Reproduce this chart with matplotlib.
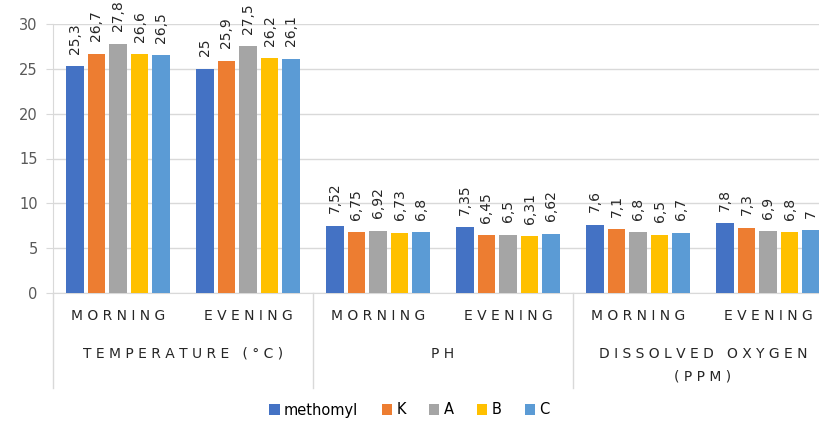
"""Bar chart of water quality readings per treatment, morning vs evening."""

import matplotlib

matplotlib.use("Agg")
import matplotlib.pyplot as plt
import numpy as np
from matplotlib.lines import Line2D

# data
times = ["MORNING", "EVENING", "MORNING", "EVENING", "MORNING", "EVENING"]
parameters = ["TEMPERATURE (°C)", "PH", "DISSOLVED OXYGEN\n(PPM)"]
series_names = ["methomyl", "K", "A", "B", "C"]
methomyl = [25.3, 25.0, 7.52, 7.35, 7.6, 7.8]
k_values = [26.7, 25.9, 6.75, 6.45, 7.1, 7.3]
a_values = [27.8, 27.5, 6.92, 6.5, 6.8, 6.9]
b_values = [26.6, 26.2, 6.73, 6.31, 6.5, 6.8]
c_values = [26.5, 26.1, 6.8, 6.62, 6.7, 7.0]
y_ticks = [0, 5, 10, 15, 20, 25, 30]

colors = ["#4472C4", "#ED7D31", "#A5A5A5", "#FFC000", "#5B9BD5"]
text_color = "#262626"
grid_color = "#D9D9D9"


def spaced(text):
    """Mimic the wide letter spacing of the original axis labels."""
    return "\n".join(" ".join(line) for line in text.split("\n"))


def fmt(value):
    return f"{value:g}".replace(".", ",")


fig = plt.figure(figsize=(8.19, 4.21), dpi=100)
# plot area runs past the right edge, as in the cropped original
ax = fig.add_axes([53 / 819, 128 / 421, 780 / 819, 269 / 421])

all_series = [methomyl, k_values, a_values, b_values, c_values]
x = np.arange(len(times))
step = 0.166
width = 0.135
for i, (name, values, color) in enumerate(zip(series_names, all_series, colors)):
    pos = x + (i - 2) * step
    bars = ax.bar(pos, values, width=width, color=color, label=name, zorder=3)
    for bar, value in zip(bars, values):
        ax.annotate(
            fmt(value),
            (bar.get_x() + bar.get_width() / 2, value),
            xytext=(0, 9),
            textcoords="offset points",
            rotation=90,
            ha="center",
            va="bottom",
            fontsize=10,
            color=text_color,
            annotation_clip=False,
        )

ax.set_xlim(-0.5, len(times) - 0.5)
ax.set_ylim(0, 30)
ax.set_yticks(y_ticks)
ax.set_yticklabels([str(t) for t in y_ticks], fontsize=10.5, color="#595959")
ax.tick_params(axis="y", length=5, color=grid_color, pad=6)
ax.set_xticks([])
ax.grid(axis="y", color=grid_color, linewidth=1, zorder=0)
for side in ["top", "right"]:
    ax.spines[side].set_visible(False)
ax.spines["left"].set_color(grid_color)
ax.spines["bottom"].set_color(grid_color)

trans = ax.get_xaxis_transform()
for xi, label in zip(x, times):
    ax.text(xi, -0.085, spaced(label), transform=trans, ha="center", va="center",
            fontsize=10, color=text_color)
for gi, label in enumerate(parameters):
    ax.text(2 * gi + 0.5, -0.2, spaced(label), transform=trans, ha="center",
            va="top", fontsize=10, color=text_color, linespacing=1.75)
for sep in [-0.5, 1.5, 3.5, 5.5]:
    ax.add_line(Line2D([sep, sep], [0, -0.353], transform=trans, color=grid_color,
                       linewidth=1, clip_on=False))

fig.legend(loc="center", bbox_to_anchor=(0.5, 11 / 421), ncol=5, frameon=False,
           fontsize=10.5, handlelength=0.7, handleheight=0.7, handletextpad=0.3,
           columnspacing=1.6, labelcolor="#000000")

fig.savefig("out.png", dpi=100)
